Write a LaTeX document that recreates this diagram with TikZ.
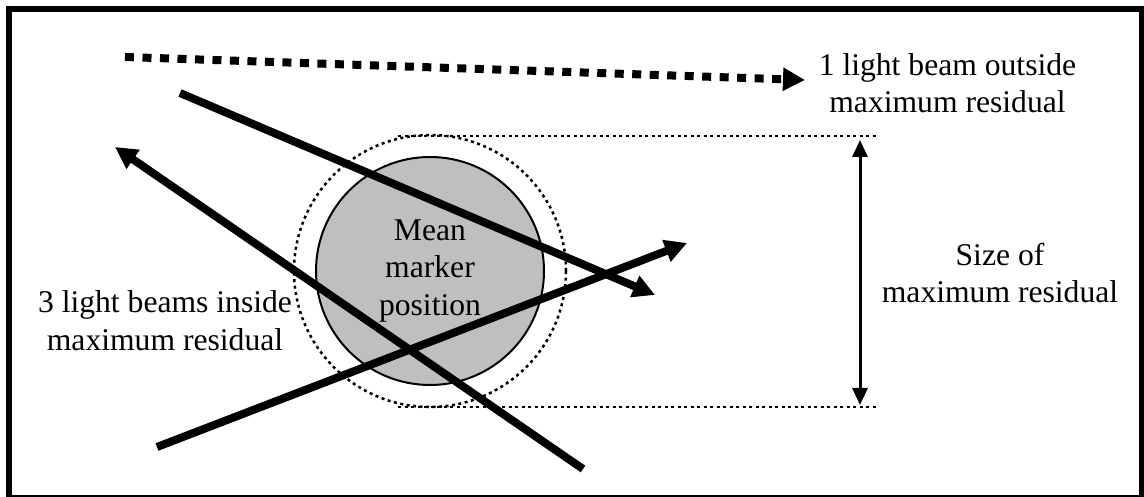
\documentclass[tikz,border=0pt]{standalone}
\usepackage{fontspec}
\setmainfont{Liberation Serif}
\usetikzlibrary{arrows.meta}
\tikzset{
  beam/.style    = {line width=1.6mm, -{Triangle[length=4.4mm, width=4.4mm]}},
  outbeam/.style = {beam, dash pattern=on 1.8mm off 1.7mm},
  marker/.style  = {circle, draw, line width=0.4mm, fill=black!25, minimum size=45.6mm, inner sep=0, align=center, font=\fontsize{18}{21.3}\selectfont},
  resid/.style   = {circle, draw, line width=0.5mm, dash pattern=on 0.6mm off 0.7mm, minimum size=54.4mm, inner sep=0},
  limit/.style   = {line width=0.5mm, dash pattern=on 0.6mm off 0.7mm},
  size/.style    = {line width=0.6mm, {Triangle[length=3.4mm, width=3mm]}-{Triangle[length=3.4mm, width=3mm]}},
  et/.style      = {align=center, font=\fontsize{18}{21.3}\selectfont}
}
\begin{document}
\begin{tikzpicture}
  \useasboundingbox (0,0) rectangle (22.88,9.94);
  \draw[line width=1.2mm] (0.18,-0.02) rectangle (22.84,9.76);

  % marker and residual circle
  \node[resid]  (R) at (8.6,4.52) {};
  \node[marker] (M) at (8.6,4.52) {Mean\\marker\\position};

  % size of the residual
  \coordinate (t1) at (7.96,7.22); \coordinate (t2) at (17.56,7.22);
  \coordinate (b1) at (7.96,1.80); \coordinate (b2) at (17.56,1.80);
  \draw[limit] (t1)--(t2);
  \draw[limit] (b1)--(b2);
  \coordinate (s1) at (17.2,7.14); \coordinate (s2) at (17.2,1.84);
  \draw[size] (s1)--(s2);
  \node[et] (sz) at (20.0,4.476) {Size of\\maximum residual};

  % beams inside (3)
  \coordinate (a0) at (3.6,8.08);   \coordinate (a1) at (13.1,4.04);  \draw[beam] (a0)--(a1);
  \coordinate (b0) at (11.66,0.56); \coordinate (b1) at (2.3,7.0);    \draw[beam] (b0)--(b1);
  \coordinate (c0) at (3.14,1.0);   \coordinate (c1) at (13.74,5.08); \draw[beam] (c0)--(c1);
  \node[et] (in) at (3.3,3.526) {3 light beams inside\\maximum residual};

  % beam outside (1)
  \coordinate (o0) at (2.5,8.8); \coordinate (o1) at (16.1,8.34); \draw[outbeam] (o0)--(o1);
  \node[et] (out) at (18.95,8.276) {1 light beam outside\\maximum residual};
\end{tikzpicture}
\end{document}
